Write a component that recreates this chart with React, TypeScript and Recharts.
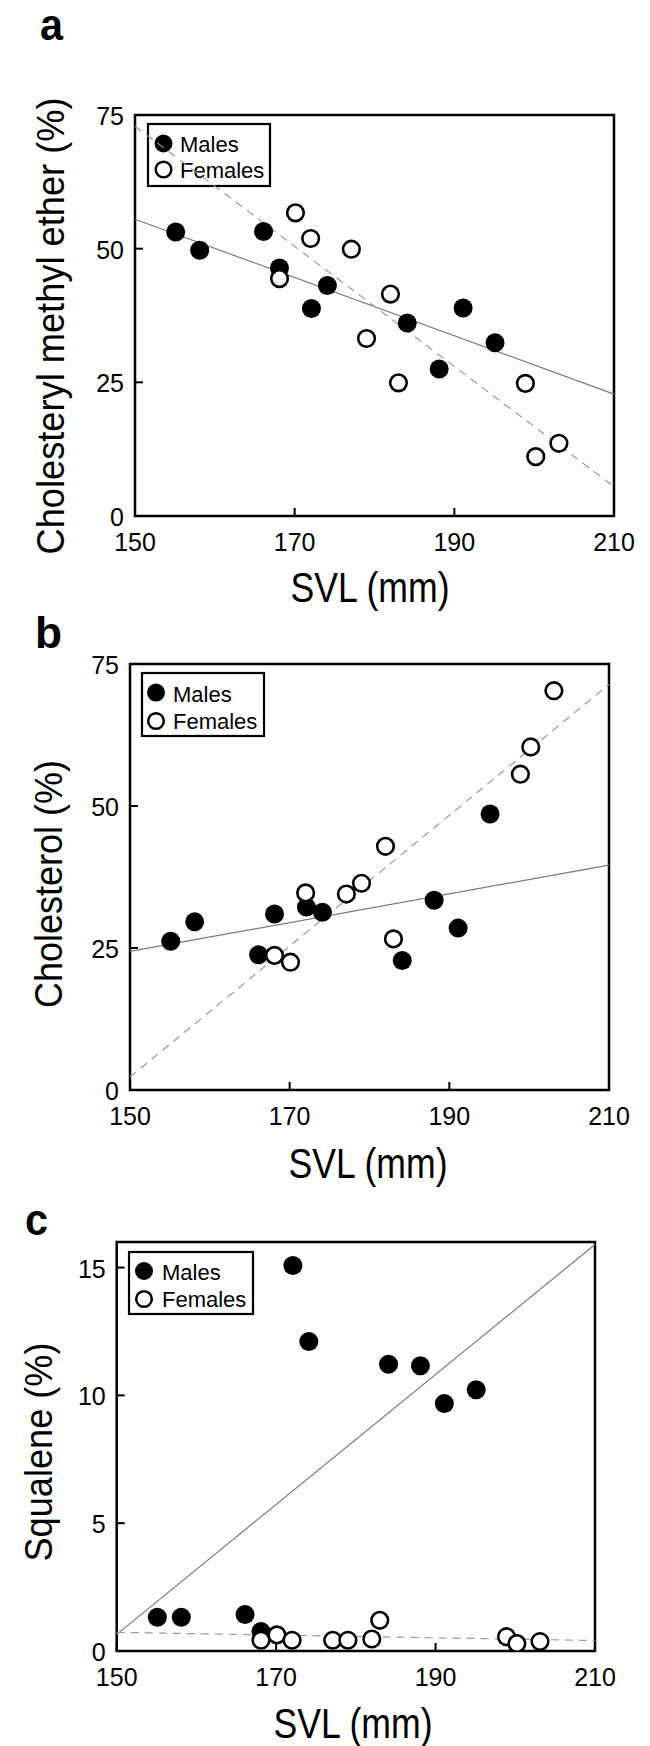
import { ReferenceArea, ReferenceLine, Scatter, ScatterChart, XAxis, YAxis } from 'recharts'

const FONT = '"Liberation Sans", Arial, Helvetica, sans-serif'
const SOLID_GREY = '#7a7a7a'
const DASH_GREY = '#9a9a9a'

// SVL (mm) of the same animals, used in all three panels
const svlMales = [155.1, 158.1, 166.1, 168.1, 172.1, 174.1, 184.1, 188.1, 191.1, 195.1]
const svlFemales = [168.1, 170.1, 172, 177.1, 179, 182, 183, 198.9, 200.2, 203.1]
const svlTicks = [150, 170, 190, 210]

// a: cholesteryl methyl ether (%)
const etherMales = [53.1, 49.7, 53.2, 46.4, 38.8, 43.1, 36.1, 27.5, 38.9, 32.4]
const etherFemales = [44.4, 56.7, 51.9, 49.9, 33.2, 41.5, 24.9, 24.8, 11.1, 13.6]
const etherMaleFit = [55.5, 22.8]
const etherFemaleFit = [72.9, 5.5]

// b: cholesterol (%)
const cholMales = [26.2, 29.6, 23.8, 31.0, 32.2, 31.3, 22.8, 33.4, 28.5, 48.6]
const cholFemales = [23.7, 22.5, 34.7, 34.5, 36.4, 42.9, 26.6, 55.6, 60.4, 70.3]
const cholMaleFit = [24.4, 39.6]
const cholFemaleFit = [2.3, 71.4]

// c: squalene (%)
const squalMales = [1.32, 1.32, 1.43, 0.76, 15.08, 12.11, 11.22, 11.16, 9.68, 10.22]
const squalFemales = [0.42, 0.63, 0.42, 0.42, 0.42, 0.47, 1.2, 0.56, 0.29, 0.37]
const squalMaleFit = [0.65, 15.9]
const squalFemaleFit = [0.73, 0.41]

const percentTicks = [0, 25, 50, 75]
const squalTicks = [0, 5, 10, 15]

const AXIS_W = 40

function FilledDot(p: any) {
  return <circle cx={p.cx} cy={p.cy} r={9.5} fill="#000" />
}

function OpenDot(p: any) {
  return <circle cx={p.cx} cy={p.cy} r={8.3} fill="#fff" stroke="#000" strokeWidth={2.6} />
}

function XTick(p: any) {
  const { x, y, payload } = p
  return (
    <g>
      <line x1={x} y1={y} x2={x} y2={y - 8} stroke="#000" strokeWidth={2} />
      <text x={x} y={y + 34.5} textAnchor="middle" fontSize={25} fontFamily={FONT} fill="#000">
        {payload.value}
      </text>
    </g>
  )
}

function YTick(p: any) {
  const { x, y, payload } = p
  return (
    <g>
      <line x1={x} y1={y} x2={x + 8} y2={y} stroke="#000" strokeWidth={2} />
      <text x={x - 11} y={y + 10} textAnchor="end" fontSize={25} fontFamily={FONT} fill="#000">
        {payload.value}
      </text>
    </g>
  )
}

// every position below is in page pixels; the panel shifts them by its own top
type PanelProps = {
  top: number
  height: number
  box: { left: number; top: number; right: number; bottom: number }
  letter: string
  letterPos: [number, number, number]
  yMax: number
  yTicks: number[]
  yTitle: string
  yTitlePos: [number, number, number]
  xTitlePos: [number, number]
  legend: { x: number; y: number; w: number; h: number; mx: number; r1: number; r2: number; tx: number; b1: number; b2: number }
  males: number[]
  females: number[]
  maleFit: number[]
  femaleFit: number[]
}

function Panel(p: PanelProps) {
  const t = p.top
  const maleData = p.males.map((v, i) => ({ svl: svlMales[i], value: v }))
  const femaleData = p.females.map((v, i) => ({ svl: svlFemales[i], value: v }))
  const lg = p.legend
  return (
    <div style={{ position: 'absolute', left: 0, top: t, width: 650, height: p.height }}>
      <ScatterChart
        width={650}
        height={p.height}
        margin={{
          top: p.box.top - t,
          left: p.box.left - AXIS_W,
          right: 650 - p.box.right,
          bottom: p.height - (p.box.bottom - t) - AXIS_W,
        }}
      >
        <XAxis
          type="number"
          dataKey="svl"
          domain={[150, 210]}
          ticks={svlTicks}
          interval={0}
          allowDataOverflow
          height={AXIS_W}
          axisLine={false}
          tickLine={false}
          tickSize={0}
          tickMargin={0}
          tick={<XTick />}
        />
        <YAxis
          type="number"
          dataKey="value"
          domain={[0, p.yMax]}
          ticks={p.yTicks}
          interval={0}
          allowDataOverflow
          width={AXIS_W}
          axisLine={false}
          tickLine={false}
          tickSize={0}
          tickMargin={0}
          tick={<YTick />}
        />
        <ReferenceLine
          segment={[{ x: 150, y: p.maleFit[0] }, { x: 210, y: p.maleFit[1] }]}
          stroke={SOLID_GREY}
          strokeWidth={1.2}
        />
        <ReferenceLine
          segment={[{ x: 150, y: p.femaleFit[0] }, { x: 210, y: p.femaleFit[1] }]}
          stroke={DASH_GREY}
          strokeWidth={1.2}
          strokeDasharray="8 6"
        />
        <Scatter data={maleData} shape={FilledDot} isAnimationActive={false} />
        <Scatter data={femaleData} shape={OpenDot} isAnimationActive={false} />
        <ReferenceArea
          x1={150}
          x2={210}
          y1={0}
          y2={p.yMax}
          fill="none"
          fillOpacity={0}
          stroke="#000"
          strokeWidth={2.5}
        />

        <text
          x={p.letterPos[0]}
          y={p.letterPos[1] - t}
          fontSize={44}
          fontWeight="bold"
          fontFamily={FONT}
          textLength={p.letterPos[2]}
          lengthAdjust="spacingAndGlyphs"
        >
          {p.letter}
        </text>
        <text
          transform={`translate(${p.yTitlePos[0]},${p.yTitlePos[1] - t}) rotate(-90)`}
          textAnchor="middle"
          fontSize={39}
          fontFamily={FONT}
          textLength={p.yTitlePos[2]}
          lengthAdjust="spacingAndGlyphs"
        >
          {p.yTitle}
        </text>
        <text
          x={p.xTitlePos[0]}
          y={p.xTitlePos[1] - t}
          textAnchor="middle"
          fontSize={43}
          fontFamily={FONT}
          textLength={159}
          lengthAdjust="spacingAndGlyphs"
        >
          SVL (mm)
        </text>

        <g>
          <rect x={lg.x} y={lg.y - t} width={lg.w} height={lg.h} fill="#fff" stroke="#000" strokeWidth={2.2} />
          <circle cx={lg.mx} cy={lg.r1 - t} r={9} fill="#000" />
          <circle cx={lg.mx} cy={lg.r2 - t} r={7.8} fill="#fff" stroke="#000" strokeWidth={2.5} />
          <text x={lg.tx} y={lg.b1 - t} fontSize={22} fontFamily={FONT}>Males</text>
          <text x={lg.tx} y={lg.b2 - t} fontSize={22} fontFamily={FONT}>Females</text>
        </g>
      </ScatterChart>
    </div>
  )
}

export default function App() {
  return (
    <div style={{ position: 'absolute', left: 0, top: 0, width: 650, height: 1746, background: '#fff' }}>
      <Panel
        top={0}
        height={620}
        box={{ left: 135, top: 115, right: 614, bottom: 516 }}
        letter="a"
        letterPos={[40, 40, 23]}
        yMax={75}
        yTicks={percentTicks}
        yTitle="Cholesteryl methyl ether (%)"
        yTitlePos={[64, 326, 457]}
        xTitlePos={[370, 602]}
        legend={{ x: 148, y: 124, w: 122, h: 62, mx: 163.5, r1: 143.5, r2: 169.5, tx: 180, b1: 152, b2: 178 }}
        males={etherMales}
        females={etherFemales}
        maleFit={etherMaleFit}
        femaleFit={etherFemaleFit}
      />
      <Panel
        top={595}
        height={595}
        box={{ left: 130, top: 664, right: 609, bottom: 1090 }}
        letter="b"
        letterPos={[35, 648, 27]}
        yMax={75}
        yTicks={percentTicks}
        yTitle="Cholesterol (%)"
        yTitlePos={[62, 884, 248]}
        xTitlePos={[368, 1178]}
        legend={{ x: 142, y: 673, w: 122, h: 63, mx: 156, r1: 692.6, r2: 721, tx: 173, b1: 702, b2: 729 }}
        males={cholMales}
        females={cholFemales}
        maleFit={cholMaleFit}
        femaleFit={cholFemaleFit}
      />
      <Panel
        top={1172}
        height={574}
        box={{ left: 116.7, top: 1242, right: 595, bottom: 1651 }}
        letter="c"
        letterPos={[25, 1235, 23]}
        yMax={16}
        yTicks={squalTicks}
        yTitle="Squalene (%)"
        yTitlePos={[52, 1452, 219]}
        xTitlePos={[353, 1738]}
        legend={{ x: 129, y: 1252, w: 124, h: 62, mx: 144, r1: 1271, r2: 1299, tx: 162, b1: 1280, b2: 1307 }}
        males={squalMales}
        females={squalFemales}
        maleFit={squalMaleFit}
        femaleFit={squalFemaleFit}
      />
    </div>
  )
}
